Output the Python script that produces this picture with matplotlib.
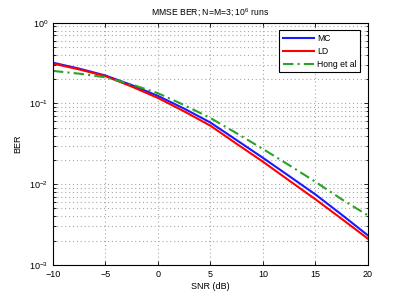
import matplotlib
matplotlib.use("Agg")
import matplotlib.pyplot as plt
import numpy as np

plt.rcParams['font.family'] = ['Liberation Sans', 'DejaVu Sans']
plt.rcParams['mathtext.fontset'] = 'custom'
plt.rcParams['mathtext.rm'] = 'Liberation Sans'
plt.rcParams['mathtext.it'] = 'Liberation Sans:italic'

# SNR axis (dB)
snr = [-10, -7.5, -5, -2.5, 0, 2.5, 5, 7.5, 10, 12.5, 15, 17.5, 20]

# BER curves
ber_mc = [0.32, 0.270, 0.222, 0.169, 0.124, 0.0863, 0.058, 0.0351, 0.0212,
          0.0126, 0.00746, 0.00419, 0.00232]
ber_ld = [0.312, 0.264, 0.218, 0.162, 0.117, 0.0798, 0.053, 0.0316, 0.019,
          0.0111, 0.0065, 0.00372, 0.00211]
ber_hong = [0.253, 0.234, 0.211, 0.172, 0.134, 0.0955, 0.066, 0.0427, 0.0273,
            0.0172, 0.0107, 0.0065, 0.0041]

fig = plt.figure(figsize=(4.07, 2.99), dpi=100)
ax = fig.add_axes([0.130, 0.114, 0.774, 0.810])

ax.semilogy(snr, ber_mc, color='#1a1aff', lw=1.5, label='MC')
ax.semilogy(snr, ber_ld, color='#ff0000', lw=1.5, label='LD')
ax.semilogy(snr, ber_hong, color='#2ca02c', lw=1.5, ls=(0, (5, 2, 1, 2)), label='Hong et al')

ax.set_xlim(-10, 20)
ax.set_ylim(1e-3, 1)
ax.set_xticks([-10, -5, 0, 5, 10, 15, 20])
ax.set_xticklabels(['\u221210', '\u22125', '0', '5', '10', '15', '20'])

ax.grid(True, which='major', ls=(0, (1, 2.5)), color='#a8a8a8', lw=0.8)
ax.grid(True, which='minor', axis='y', ls=(0, (1, 2.5)), color='#a8a8a8', lw=0.8)
ax.tick_params(which='both', direction='in', top=True, right=True,
               labelsize=6.5, length=3, width=0.6)
ax.tick_params(which='minor', length=1.8)
for s in ax.spines.values():
    s.set_linewidth(0.8)

ax.set_title('MMSE BER; N=M=3; $10^6$ runs', fontsize=6.2, pad=5)
ax.set_xlabel('SNR (dB)', fontsize=6.5, labelpad=2)
ax.set_ylabel('BER', fontsize=6.5, labelpad=5)

leg = ax.legend(loc='upper right', fontsize=6.2, frameon=True, fancybox=False,
                edgecolor='black', framealpha=1, borderaxespad=0.9,
                handlelength=3.6, labelspacing=0.45, borderpad=0.4,
                handletextpad=0.4)
leg.get_frame().set_linewidth(0.8)

plt.savefig("out.png", dpi=100)
